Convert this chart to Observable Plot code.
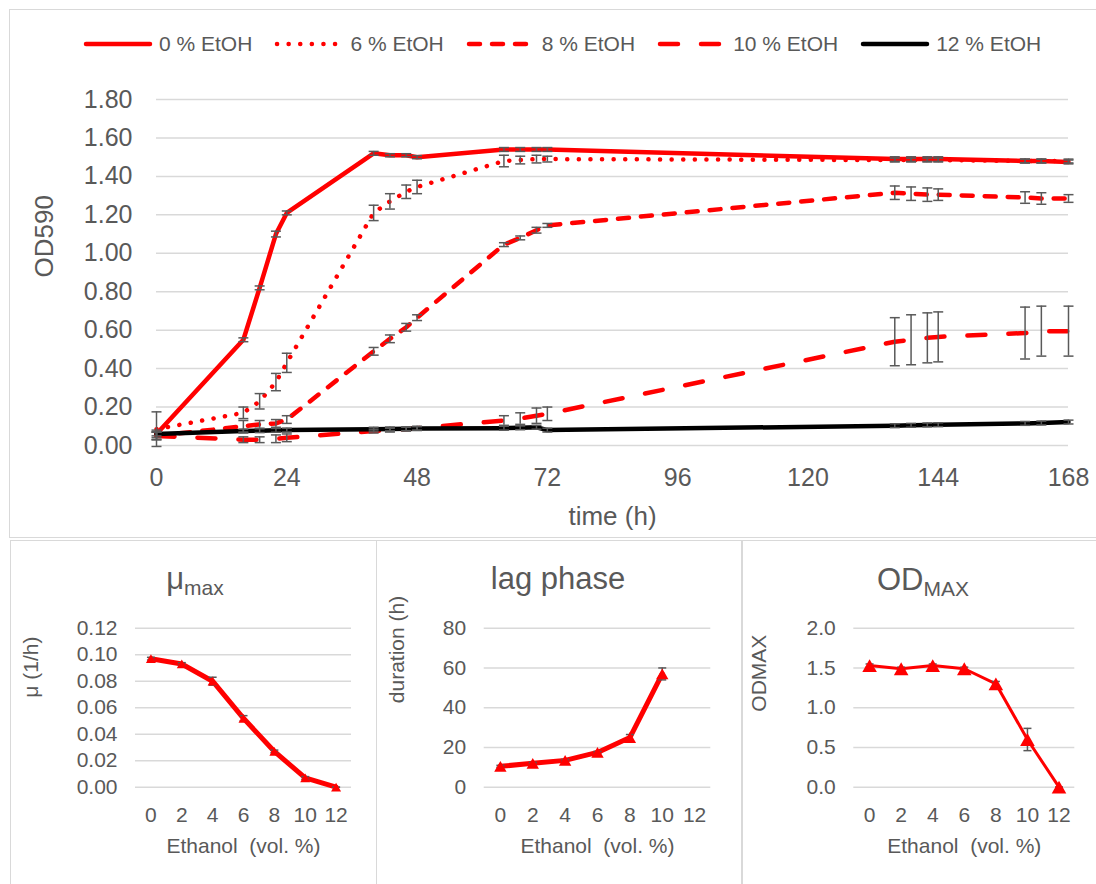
<!DOCTYPE html>
<html><head><meta charset="utf-8">
<script src="https://cdn.jsdelivr.net/npm/d3@7"></script>
<script src="https://cdn.jsdelivr.net/npm/@observablehq/plot@0.6"></script>
<style>
body{margin:0;background:#fff;font-family:"Liberation Sans",Arial,sans-serif;}
#root{position:relative;width:1096px;height:884px;overflow:hidden;background:#fff;}
.box{position:absolute;border:1.5px solid #d9d9d9;box-sizing:border-box;}
.plot{position:absolute;}
.title{position:absolute;color:#595959;font-size:31px;white-space:nowrap;line-height:31px;transform:translateX(-50%);}
.title .sub{font-size:21px;position:relative;top:6px;}
#legend{position:absolute;left:83px;top:32px;display:flex;align-items:center;gap:22px;color:#595959;font-size:21px;line-height:24px;}
#legend .item{display:flex;align-items:center;gap:6px;}
</style></head>
<body><div id="root"></div>
<script>
// ---------- data: main growth curves ----------
const times = [0,16,19,22,24,40,43,46,48,64,67,70,72,136,139,142,144,160,163,168];
const seriesNames = ["0 % EtOH","6 % EtOH","8 % EtOH","10 % EtOH","12 % EtOH"];
const od0  = [0.06,0.55,0.82,1.10,1.21,1.52,1.51,1.51,1.50,1.54,1.54,1.54,1.54,1.49,1.49,1.49,1.49,1.48,1.48,1.475];
const od6  = [0.085,0.17,0.23,0.33,0.43,1.21,1.27,1.32,1.345,1.48,1.485,1.49,1.49,1.485,1.485,1.485,1.485,1.48,1.48,1.48];
const od8  = [0.05,0.10,0.11,0.115,0.135,0.49,0.555,0.615,0.665,1.045,1.08,1.12,1.145,1.315,1.31,1.305,1.305,1.29,1.285,1.285];
const od10 = [0.05,0.03,0.03,0.035,0.04,0.075,0.08,0.085,0.09,0.13,0.14,0.155,0.165,0.54,0.55,0.56,0.565,0.585,0.595,0.595];
const od12 = [0.06,0.075,0.077,0.079,0.08,0.085,0.086,0.087,0.088,0.09,0.092,0.095,0.08,0.103,0.105,0.107,0.108,0.115,0.117,0.122];
const err0  = [0.02,0.01,0.01,0.015,0.01,0.01,0.008,0.008,0.008,0.01,0.01,0.01,0.01,0.012,0.012,0.012,0.012,0.01,0.01,0.01];
const err6  = [0.09,0.03,0.04,0.045,0.05,0.04,0.04,0.035,0.035,0.03,0.02,0.02,0.015,0.01,0.01,0.01,0.01,0.01,0.01,0.01];
const err8  = [0.02,0.03,0.02,0.02,0.02,0.02,0.02,0.02,0.015,0.01,0.01,0.015,0.01,0.035,0.035,0.035,0.03,0.03,0.03,0.02];
const err10 = [0.02,0.015,0.015,0.02,0.02,0.01,0.01,0.01,0.01,0.025,0.03,0.04,0.035,0.125,0.13,0.13,0.13,0.135,0.13,0.13];
const err12 = [0.01,0.01,0.01,0.01,0.01,0.01,0.01,0.01,0.01,0.01,0.01,0.01,0.01,0.01,0.01,0.01,0.01,0.01,0.01,0.01];
const timeTicks = [0,24,48,72,96,120,144,168];
const odTicks = [0,0.2,0.4,0.6,0.8,1.0,1.2,1.4,1.6,1.8];

// ---------- data: small panels ----------
const ethanol = [0,2,4,6,8,10,12];
const muMax = [0.097,0.093,0.080,0.052,0.027,0.007,0.000];
const muErr = [0.001,0.001,0.003,0.002,0.001,0.001,0.000];
const lagH = [10.5,12,13.5,17.5,25,57,null];
const lagErr = [0.5,0.5,0.5,0.5,1.5,3,null];
const odMax = [1.53,1.49,1.53,1.49,1.30,0.60,0.0];
const odMaxErr = [0.02,0.02,0.02,0.02,0.03,0.14,0.0];
const muTicks = [0,0.02,0.04,0.06,0.08,0.10,0.12];
const lagTicks = [0,20,40,60,80];
const odMaxTicks = [0,0.5,1.0,1.5,2.0];
const ethTicks = [0,2,4,6,8,10,12];

// ---------- styles ----------
const FONT = "Liberation Sans, Arial, sans-serif";
const TXT = "#595959", GRID = "#d9d9d9", ERR = "#595959";
const lineStyles = [
  {stroke:"#ff0000", dash:null},
  {stroke:"#ff0000", dash:"0.1,11.5"},
  {stroke:"#ff0000", dash:"11,12"},
  {stroke:"#ff0000", dash:"18,23"},
  {stroke:"#000000", dash:null}
];
const cap = {draw(ctx, size){ const r = Math.sqrt(size/Math.PI); ctx.moveTo(-r,0); ctx.lineTo(r,0); }};
const tri = {draw(ctx, size){ const r = Math.sqrt(size/Math.PI); const h = r*1.75; ctx.moveTo(0,-h/2); ctx.lineTo(r,h/2); ctx.lineTo(-r,h/2); ctx.closePath(); }};

const root = document.getElementById("root");
function add(el, cls, left, top){ el.classList.add(cls); el.style.left = left+"px"; el.style.top = top+"px"; root.appendChild(el); return el; }
function box(l,t,w,h){ const d=document.createElement("div"); d.className="box"; Object.assign(d.style,{left:l+"px",top:t+"px",width:w+"px",height:h+"px"}); root.appendChild(d); }

box(9,9,1100,529);
box(10,540,367,360);
box(376,540,366,360);
box(742,540,400,360);

// ---------- main chart ----------
const vals = [od0,od6,od8,od10,od12];
const errs = [err0,err6,err8,err10,err12];
const rows = seriesNames.flatMap((s,i)=>times.map((t,j)=>({series:s, t, od:vals[i][j], err:errs[i][j]})));

const lineMarks = seriesNames.map((s,i)=>Plot.line(rows.filter(d=>d.series===s), {
  x:"t", y:"od", stroke:lineStyles[i].stroke, strokeWidth:4.5,
  strokeDasharray:lineStyles[i].dash || undefined, strokeLinecap:"round", strokeLinejoin:"round"
}));

const mainPlot = Plot.plot({
  width:1096, height:460,
  marginLeft:156, marginRight:28, marginTop:19, marginBottom:95,
  style:{fontFamily:FONT, color:TXT, background:"none", overflow:"visible"},
  x:{domain:[0,168]},
  y:{domain:[0,1.8]},
  marks:[
    Plot.gridY(odTicks, {stroke:GRID, strokeOpacity:1, strokeWidth:1.5}),
    Plot.axisX(timeTicks, {tickSize:0, tickPadding:23, fontSize:25, label:null}),
    Plot.axisY(odTicks, {tickSize:0, tickPadding:24, fontSize:25, tickFormat:d3.format(".2f"), label:null}),
    ...lineMarks,
    Plot.ruleX(rows, {x:"t", y1:d=>d.od-d.err, y2:d=>d.od+d.err, stroke:ERR, strokeWidth:1.5}),
    Plot.dot(rows, {x:"t", y:d=>d.od+d.err, symbol:cap, r:5, stroke:ERR, fill:"none", strokeWidth:1.5}),
    Plot.dot(rows, {x:"t", y:d=>d.od-d.err, symbol:cap, r:5, stroke:ERR, fill:"none", strokeWidth:1.5}),
    Plot.text(["time (h)"], {text:d=>d, frameAnchor:"bottom", dy:71, fontSize:26, lineAnchor:"middle"}),
    Plot.text(["OD590"], {text:d=>d, frameAnchor:"left", rotate:-90, dx:-112, dy:5, fontSize:26, lineAnchor:"middle"})
  ]
});
add(mainPlot, "plot", 0, 80);

// legend
const legend = document.createElement("div");
legend.id = "legend";
seriesNames.forEach((s,i)=>{
  const item = document.createElement("span"); item.className="item";
  const svg = d3.create("svg").attr("width",70).attr("height",10);
  svg.append("line").attr("x1",3).attr("x2",67).attr("y1",5).attr("y2",5)
    .attr("stroke",lineStyles[i].stroke).attr("stroke-width",4.5).attr("stroke-linecap","round")
    .attr("stroke-dasharray",lineStyles[i].dash);
  item.appendChild(svg.node());
  const t = document.createElement("span"); t.textContent = s; item.appendChild(t);
  legend.appendChild(item);
});
root.appendChild(legend);

// ---------- small panels ----------
function panel({values, errors, ticks, fmt, yDomain, yTitle, left, w, mL, mR, ytdx, ytdy, lineW, triR}){
  const data = ethanol.map((e,i)=>({e, v:values[i], err:errors[i]})).filter(d=>d.v!=null);
  const p = Plot.plot({
    width:w, height:280,
    marginLeft:mL, marginRight:mR, marginTop:27.7, marginBottom:93.3,
    style:{fontFamily:FONT, color:TXT, background:"none", overflow:"visible"},
    x:{domain:[-1,13]},
    y:{domain:yDomain},
    marks:[
      Plot.gridY(ticks, {stroke:GRID, strokeOpacity:1, strokeWidth:1.5}),
      Plot.axisX(ethTicks, {tickSize:0, tickPadding:20, fontSize:21, label:null}),
      Plot.axisY(ticks, {tickSize:0, tickPadding:18, fontSize:21, tickFormat:d3.format(fmt), label:null}),
      Plot.line(data, {x:"e", y:"v", stroke:"#ff0000", strokeWidth:lineW, strokeLinejoin:"round", strokeLinecap:"round"}),
      Plot.ruleX(data, {x:"e", y1:d=>d.v-d.err, y2:d=>d.v+d.err, stroke:ERR, strokeWidth:1.5}),
      Plot.dot(data, {x:"e", y:d=>d.v+d.err, symbol:cap, r:4, stroke:ERR, fill:"none", strokeWidth:1.5}),
      Plot.dot(data, {x:"e", y:d=>d.v-d.err, symbol:cap, r:4, stroke:ERR, fill:"none", strokeWidth:1.5}),
      Plot.dot(data, {x:"e", y:"v", symbol:tri, r:triR, fill:"#ff0000", stroke:"none"}),
      Plot.text(["Ethanol\u00a0 (vol. %)"], {text:d=>d, frameAnchor:"bottom", dy:59.5, fontSize:21, lineAnchor:"middle"}),
      Plot.text([yTitle], {text:d=>d, frameAnchor:"left", rotate:-90, dx:ytdx, dy:ytdy, fontSize:21, lineAnchor:"middle"})
    ]
  });
  add(p, "plot", left, 600);
}
panel({values:muMax, errors:muErr, ticks:muTicks, fmt:".2f", yDomain:[0,0.12], yTitle:"μ (1/h)", left:10, w:366, mL:125, mR:25, ytdx:-104, ytdy:-10, lineW:5, triR:5});
panel({values:lagH, errors:lagErr, ticks:lagTicks, fmt:"d", yDomain:[0,80], yTitle:"duration (h)", left:376, w:365, mL:107.7, mR:30.7, ytdx:-87, ytdy:-4.5, lineW:5, triR:6.2});
panel({values:odMax, errors:odMaxErr, ticks:odMaxTicks, fmt:".1f", yDomain:[0,2], yTitle:"ODMAX", left:742, w:354, mL:111.3, mR:21.7, ytdx:-95, ytdy:4, lineW:3, triR:7.3});

// panel titles
function title(html, cx, top){ const d=document.createElement("div"); d.className="title"; d.innerHTML=html; d.style.left=cx+"px"; d.style.top=top+"px"; root.appendChild(d); }
title('μ<span class="sub">max</span>', 195, 563);
title('lag phase', 558, 563);
title('OD<span class="sub">MAX</span>', 923, 564);
</script></body></html>
